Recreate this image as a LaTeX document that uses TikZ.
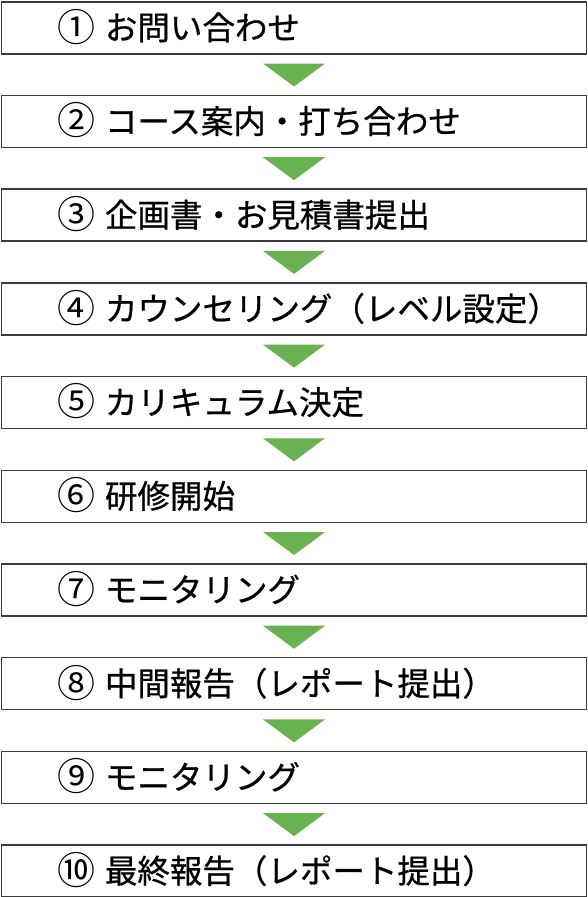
\documentclass[tikz,border=0pt]{standalone}
\usepackage{fontspec}
\usepackage{tikz}
\usetikzlibrary{positioning, calc}
\newfontfamily\jpfont[FakeBold=0.7]{Noto Sans CJK JP}
\newfontfamily\jpnumfont{Noto Sans CJK JP}
\definecolor{flowgreen}{RGB}{104, 178, 82}
\definecolor{boxline}{RGB}{60, 60, 60}
\newcommand{\stepno}[1]{\makebox[47pt][l]{\raisebox{-1.5pt}{\jpnumfont\fontsize{38}{38}\selectfont #1}}}
\tikzset{
    stepbox/.style={draw=boxline, line width=1.5pt, fill=white, minimum width=585pt, minimum height=52pt, anchor=north west, inner sep=0pt},
    steptext/.style={anchor=west, inner sep=0pt, font=\jpfont\fontsize{32.5}{32.5}\selectfont},
}
\begin{document}
\begin{tikzpicture}[x=1pt, y=1pt]
    % Page frame
    \useasboundingbox (0,0) rectangle (587,-897);
    
    % Steps
    \node[stepbox] (box1) at (0.75,-1) {};
    \node[stepbox] (box2) at (0.75,-94.7) {};
    \node[stepbox] (box3) at (0.75,-188.4) {};
    \node[stepbox] (box4) at (0.75,-282.1) {};
    \node[stepbox] (box5) at (0.75,-375.8) {};
    \node[stepbox] (box6) at (0.75,-469.5) {};
    \node[stepbox] (box7) at (0.75,-563.2) {};
    \node[stepbox] (box8) at (0.75,-656.9) {};
    \node[stepbox] (box9) at (0.75,-750.6) {};
    \node[stepbox] (box10) at (0.75,-844.3) {};
    
    % Labels
    \node[steptext] (lbl1) at ([xshift=57pt,yshift=1pt]box1.west) {\stepno{①}お問い合わせ};
    \node[steptext] (lbl2) at ([xshift=57pt,yshift=1pt]box2.west) {\stepno{②}コース案内・打ち合わせ};
    \node[steptext] (lbl3) at ([xshift=57pt,yshift=1pt]box3.west) {\stepno{③}企画書・お見積書提出};
    \node[steptext] (lbl4) at ([xshift=57pt,yshift=1pt]box4.west) {\stepno{④}カウンセリング（レベル設定）};
    \node[steptext] (lbl5) at ([xshift=57pt,yshift=1pt]box5.west) {\stepno{⑤}カリキュラム決定};
    \node[steptext] (lbl6) at ([xshift=57pt,yshift=1pt]box6.west) {\stepno{⑥}研修開始};
    \node[steptext] (lbl7) at ([xshift=57pt,yshift=1pt]box7.west) {\stepno{⑦}モニタリング};
    \node[steptext] (lbl8) at ([xshift=57pt,yshift=1pt]box8.west) {\stepno{⑧}中間報告（レポート提出）};
    \node[steptext] (lbl9) at ([xshift=57pt,yshift=1pt]box9.west) {\stepno{⑨}モニタリング};
    \node[steptext] (lbl10) at ([xshift=57pt,yshift=1pt]box10.west) {\stepno{⑩}最終報告（レポート提出）};
    
    % Arrows
    \fill[flowgreen] ([xshift=-31pt,yshift=-9pt]box1.south) -- ([xshift=31pt,yshift=-9pt]box1.south) -- ([yshift=-32pt]box1.south) -- cycle;
    \fill[flowgreen] ([xshift=-31pt,yshift=-9pt]box2.south) -- ([xshift=31pt,yshift=-9pt]box2.south) -- ([yshift=-32pt]box2.south) -- cycle;
    \fill[flowgreen] ([xshift=-31pt,yshift=-9pt]box3.south) -- ([xshift=31pt,yshift=-9pt]box3.south) -- ([yshift=-32pt]box3.south) -- cycle;
    \fill[flowgreen] ([xshift=-31pt,yshift=-9pt]box4.south) -- ([xshift=31pt,yshift=-9pt]box4.south) -- ([yshift=-32pt]box4.south) -- cycle;
    \fill[flowgreen] ([xshift=-31pt,yshift=-9pt]box5.south) -- ([xshift=31pt,yshift=-9pt]box5.south) -- ([yshift=-32pt]box5.south) -- cycle;
    \fill[flowgreen] ([xshift=-31pt,yshift=-9pt]box6.south) -- ([xshift=31pt,yshift=-9pt]box6.south) -- ([yshift=-32pt]box6.south) -- cycle;
    \fill[flowgreen] ([xshift=-31pt,yshift=-9pt]box7.south) -- ([xshift=31pt,yshift=-9pt]box7.south) -- ([yshift=-32pt]box7.south) -- cycle;
    \fill[flowgreen] ([xshift=-31pt,yshift=-9pt]box8.south) -- ([xshift=31pt,yshift=-9pt]box8.south) -- ([yshift=-32pt]box8.south) -- cycle;
    \fill[flowgreen] ([xshift=-31pt,yshift=-9pt]box9.south) -- ([xshift=31pt,yshift=-9pt]box9.south) -- ([yshift=-32pt]box9.south) -- cycle;
    
\end{tikzpicture}
\end{document}
